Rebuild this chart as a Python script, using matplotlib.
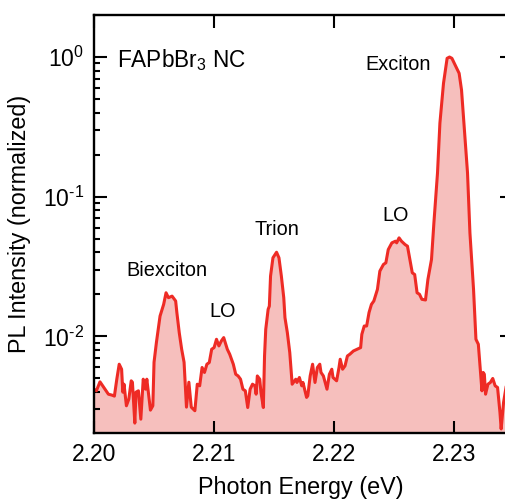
import numpy as np
import matplotlib
matplotlib.use("Agg")
import matplotlib.pyplot as plt

plt.rcParams['font.family'] = ['Liberation Sans', 'DejaVu Sans']
plt.rcParams['mathtext.default'] = 'regular'
plt.rcParams['axes.unicode_minus'] = False

# photon energy (eV) and normalized PL intensity
energy = [2.2000, 2.2002, 2.2005, 2.2008, 2.2012, 2.2015, 2.2017, 2.2019, 2.2021, 2.2023,
          2.2024, 2.2025, 2.2027, 2.2029, 2.2031, 2.2032, 2.2034, 2.2035, 2.2037, 2.2039,
          2.2041, 2.2043, 2.2044, 2.2045, 2.2047, 2.2049, 2.2050, 2.2052, 2.2055, 2.2058,
          2.2060, 2.2062, 2.2065, 2.2068, 2.2069, 2.2071, 2.2073, 2.2075, 2.2077, 2.2079,
          2.2081, 2.2084, 2.2086, 2.2088, 2.2090, 2.2092, 2.2094, 2.2096, 2.2098, 2.2100,
          2.2102, 2.2104, 2.2106, 2.2108, 2.2111, 2.2113, 2.2116, 2.2118, 2.2120, 2.2122,
          2.2124, 2.2126, 2.2128, 2.2130, 2.2132, 2.2134, 2.2135, 2.2136, 2.2138, 2.2139,
          2.2141, 2.2142, 2.2143, 2.2145, 2.2146, 2.2147, 2.2149, 2.2152, 2.2154, 2.2156,
          2.2158, 2.2159, 2.2161, 2.2163, 2.2165, 2.2168, 2.2169, 2.2171, 2.2173, 2.2174,
          2.2177, 2.2178, 2.2180, 2.2182, 2.2184, 2.2186, 2.2188, 2.2189, 2.2191, 2.2194,
          2.2196, 2.2198, 2.2199, 2.2202, 2.2204, 2.2205, 2.2207, 2.2209, 2.2211, 2.2213,
          2.2216, 2.2219, 2.2222, 2.2223, 2.2225, 2.2227, 2.2229, 2.2231, 2.2233, 2.2236,
          2.2238, 2.2241, 2.2243, 2.2245, 2.2248, 2.2251, 2.2252, 2.2254, 2.2256, 2.2259,
          2.2261, 2.2263, 2.2265, 2.2267, 2.2269, 2.2271, 2.2273, 2.2276, 2.2278, 2.2281,
          2.2283, 2.2286, 2.2288, 2.2291, 2.2294, 2.2296, 2.2298, 2.2300, 2.2302, 2.2304,
          2.2306, 2.2308, 2.2311, 2.2313, 2.2316, 2.2318, 2.2320, 2.2322, 2.2323, 2.2324,
          2.2325, 2.2326, 2.2328, 2.2330, 2.2332, 2.2334, 2.2336, 2.2338, 2.2339, 2.2341,
          2.2343, 2.2346]
intensity = [0.00418, 0.00407, 0.00472, 0.00432, 0.00385, 0.00379, 0.00373, 0.00493, 0.00631, 0.00581,
             0.00398, 0.00454, 0.00318, 0.00355, 0.00480, 0.00469, 0.00239, 0.00398, 0.00407, 0.00255,
             0.00493, 0.00418, 0.00493, 0.00418, 0.00296, 0.00318, 0.00652, 0.00906, 0.01396, 0.01693,
             0.0205, 0.0189, 0.0194, 0.0179, 0.0148, 0.0106, 0.00808, 0.00652, 0.00311, 0.00469,
             0.00311, 0.00293, 0.00454, 0.00442, 0.00598, 0.00551, 0.00631, 0.00649, 0.00808, 0.00830,
             0.00952, 0.00853, 0.00925, 0.00979, 0.00808, 0.00744, 0.00631, 0.00535, 0.00520, 0.00493,
             0.00418, 0.00407, 0.00309, 0.00418, 0.00454, 0.00442, 0.00385, 0.00520, 0.00493, 0.00398,
             0.00309, 0.00723, 0.01122, 0.0156, 0.01645, 0.0270, 0.0365, 0.0400, 0.0365, 0.0270,
             0.0189, 0.0136, 0.0106, 0.00765, 0.00454, 0.00493, 0.00467, 0.00507, 0.00442, 0.00467,
             0.00365, 0.00375, 0.00520, 0.00631, 0.00467, 0.00598, 0.00631, 0.00551, 0.00520, 0.00418,
             0.00535, 0.00581, 0.00507, 0.00480, 0.00598, 0.00685, 0.00581, 0.00614, 0.00723, 0.00744,
             0.00785, 0.00808, 0.00830, 0.01033, 0.01185, 0.01185, 0.0148, 0.01693, 0.0179, 0.0217,
             0.0293, 0.0327, 0.0336, 0.0418, 0.0467, 0.0480, 0.0467, 0.0507, 0.0480, 0.0454,
             0.0442, 0.0355, 0.0285, 0.0277, 0.0205, 0.0200, 0.0184, 0.0182, 0.0255, 0.0355,
             0.0649, 0.1477, 0.336, 0.649, 0.979, 1.0, 0.979, 0.902, 0.830, 0.765,
             0.581, 0.336, 0.1477, 0.0550, 0.0217, 0.00952, 0.00877, 0.00520, 0.00407, 0.00551,
             0.00535, 0.00385, 0.00454, 0.00467, 0.00499, 0.00442, 0.00430, 0.00285, 0.00217, 0.00336,
             0.00430, 0.00440]

peak_labels = ["Biexciton", "LO", "Trion", "LO", "Exciton"]
label_x = [2.2061, 2.2107, 2.2152, 2.2251, 2.2253]
label_y = [0.0296, 0.0151, 0.0581, 0.0732, 0.877]

xtick_values = [2.20, 2.21, 2.22, 2.23]
xtick_labels = ["2.20", "2.21", "2.22", "2.23"]
ytick_values = [1e-2, 1e-1, 1e0]
ytick_labels = ["$10^{\u2010 2}$", "$10^{\u2010 1}$", "$10^{0}$"]

line_color = '#EE2B25'
fill_color = '#F6BFBD'

fig = plt.figure(figsize=(5.05, 5.0), dpi=100)
ax = fig.add_axes([0.1861, 0.134, 0.8277, 0.836])

ax.fill_between(energy, intensity, 1e-3, color=fill_color, linewidth=0)
ax.plot(energy, intensity, color=line_color, linewidth=2.2)

ax.set_yscale('log')
ax.set_xlim(2.2, 2.2348)
ax.set_ylim(0.00203, 2.0)
ax.set_xticks(xtick_values)
ax.set_xticklabels(xtick_labels)
ax.set_yticks(ytick_values)
ax.set_yticklabels(ytick_labels)

ax.tick_params(which='both', direction='in', top=True, right=True, labelsize=16.5, width=1.5)
ax.tick_params(which='major', length=9, pad=7)
ax.tick_params(which='minor', length=4.5)
ax.tick_params(axis='x', which='minor', bottom=False, top=False)
for s in ax.spines.values():
    s.set_linewidth(1.7)

ax.set_xlabel("Photon Energy (eV)", fontsize=16.8)
ax.set_ylabel("PL Intensity (normalized)", fontsize=16.8)
ax.xaxis.set_label_coords(0.495, -0.103)
ax.yaxis.set_label_coords(-0.15, 0.5)

for lab, lx, ly in zip(peak_labels, label_x, label_y):
    ax.text(lx, ly, lab, fontsize=14.3, ha='center', va='center')

ax.text(0.055, 0.892, "FAPbBr$_3$ NC", transform=ax.transAxes, fontsize=16.3,
        ha='left', va='center')

fig.savefig("out.png", dpi=100)
